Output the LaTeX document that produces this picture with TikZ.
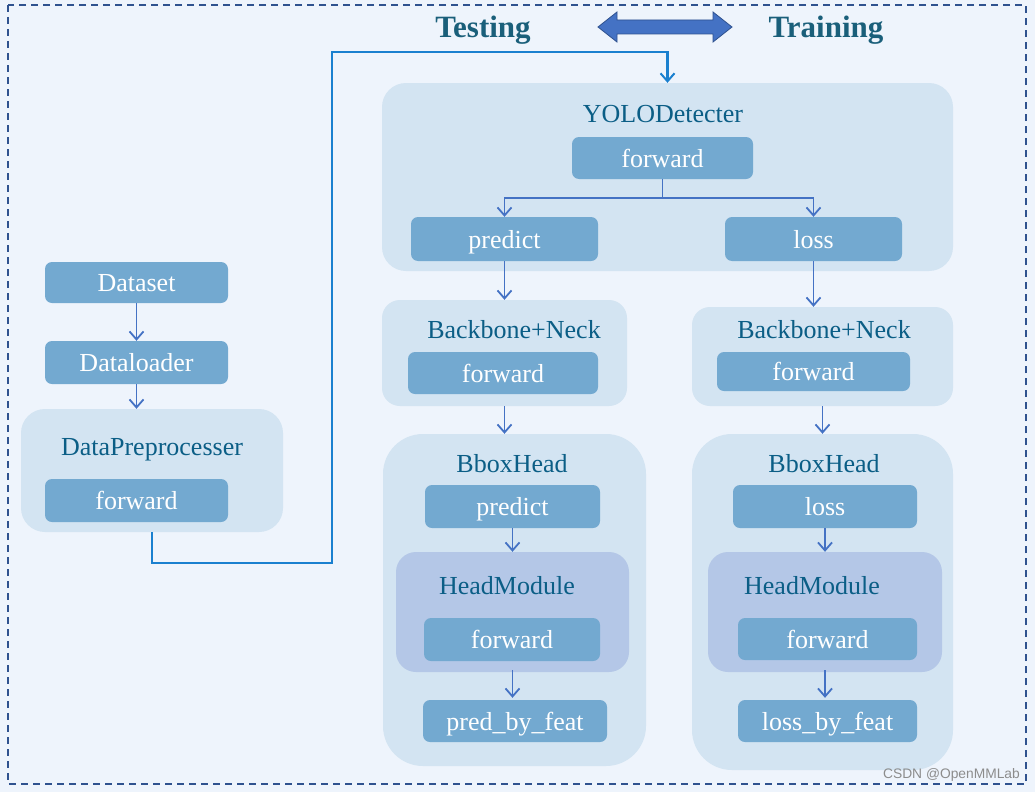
\documentclass[tikz,border=0pt]{standalone}
\usepackage{fontspec}
\setmainfont{Liberation Serif}
\newfontfamily\wmfont{Liberation Sans}
\usetikzlibrary{arrows.meta}
\definecolor{bgc}{HTML}{EEF4FC}
\definecolor{framec}{HTML}{2F528F}
\definecolor{outerc}{HTML}{D3E4F2}
\definecolor{innerc}{HTML}{73A9D0}
\definecolor{hmc}{HTML}{B4C7E7}
\definecolor{titlec}{HTML}{0B5E86}
\definecolor{headc}{HTML}{1A5F7A}
\definecolor{feedc}{HTML}{1A80CF}
\definecolor{arrc}{HTML}{4472C4}
\definecolor{wmc}{HTML}{8C8C8C}
\tikzset{
  outerbox/.style={fill=outerc, draw=none, rounded corners=24pt, inner sep=0pt},
  hmbox/.style={fill=hmc, draw=none, rounded corners=20pt, inner sep=0pt},
  innerbox/.style={fill=innerc, draw=none, rounded corners=7pt, inner sep=0pt, text=white,
    font=\fontsize{26}{30}\selectfont, text height=18pt, text depth=0pt},
  titletext/.style={text=titlec, inner sep=0pt, font=\fontsize{26}{30}\selectfont,
    text height=18pt, text depth=0pt},
  headtext/.style={text=headc, inner sep=0pt, font=\fontsize{31}{36}\selectfont\bfseries,
    text height=21pt, text depth=0pt},
  arr/.style={draw=arrc, line width=1.9pt, -{Straight Barb[length=8pt,width=14pt,line width=1.8pt]}},
  feed/.style={draw=feedc, line width=2.2pt, -{Straight Barb[length=8pt,width=14pt,line width=2pt]}},
}
\begin{document}
\begin{tikzpicture}[x=1pt,y=-1pt]
\useasboundingbox (0,0) rectangle (1035,792);
\fill[bgc] (0,0) rectangle (1035,792);
\draw[framec, line width=1.3pt, dash pattern=on 7pt off 5pt] (8,5) rectangle (1026,784);

% header
\node[headtext] (testing) at (483,27) {Testing};
\node[headtext] (training) at (826,27) {Training};
\fill[arrc, draw=framec, line width=0.8pt] (598,27) -- (617,12) -- (617,20) -- (713,20) -- (713,12) -- (732,27) -- (713,42) -- (713,34) -- (617,34) -- (617,42) -- cycle;

% left column
\node[innerbox, minimum width=183pt, minimum height=41pt] (ds) at (136.5,282.5) {Dataset};
\node[innerbox, minimum width=183pt, minimum height=43pt] (dl) at (136.5,362.5) {Dataloader};
\node[outerbox, minimum width=262pt, minimum height=123pt] (dpp) at (152,470.5) {};
\node[titletext] (dppt) at (152,446) {DataPreprocesser};
\node[innerbox, minimum width=183pt, minimum height=43pt] (dppf) at (136.5,500.5) {forward};
\draw[arr] (ds.south) -- (dl.north);
\draw[arr] (dl.south) -- (dl.south |- dpp.north);

% YOLODetecter
\node[outerbox, minimum width=571pt, minimum height=188pt] (yolo) at (667.5,177) {};
\node[titletext] (yolot) at (663,113) {YOLODetecter};
\node[innerbox, minimum width=181pt, minimum height=42pt] (yf) at (662.5,158) {forward};
\node[innerbox, minimum width=187pt, minimum height=44pt] (yp) at (504.5,239) {predict};
\node[innerbox, minimum width=177pt, minimum height=44pt] (yl) at (813.5,239) {loss};
\draw[arr] (yf.south) -- ++(0,19) -| (yp.north);
\draw[arr] (yf.south) -- ++(0,19) -| (yl.north);

% feed connector
\coordinate (t1) at (332,563);
\coordinate (t2) at (332,52);
\draw[feed] (dpp.south) |- (t1) -- (t2) -| (yolo.north);

% Backbone+Neck
\node[outerbox, minimum width=245pt, minimum height=106pt, rounded corners=18pt] (bbl) at (504.5,353) {};
\node[titletext] (bblt) at (514,329) {Backbone+Neck};
\node[innerbox, minimum width=190pt, minimum height=42pt] (bblf) at (503,373) {forward};
\node[outerbox, minimum width=261pt, minimum height=99pt, rounded corners=18pt] (bbr) at (822.5,356.5) {};
\node[titletext] (bbrt) at (824,329) {Backbone+Neck};
\node[innerbox, minimum width=193pt, minimum height=39pt] (bbrf) at (813.5,371.5) {forward};
\draw[arr] (yp.south) -- (yp.south |- bbl.north);
\draw[arr] (yl.south) -- (yl.south |- bbr.north);

% BboxHead left
\node[outerbox, minimum width=263pt, minimum height=332pt, rounded corners=40pt] (bhl) at (514.5,600) {};
\node[titletext] (bhlt) at (512,463) {BboxHead};
\node[innerbox, minimum width=175pt, minimum height=43pt] (bhlp) at (512.5,506.5) {predict};
\node[hmbox, minimum width=233pt, minimum height=120pt] (hml) at (512.5,612) {};
\node[titletext] (hmlt) at (507,585) {HeadModule};
\node[innerbox, minimum width=176pt, minimum height=43pt] (hmlf) at (512,639.5) {forward};
\node[innerbox, minimum width=184pt, minimum height=42pt] (pbf) at (515,721) {pred\_by\_feat};
\draw[arr] (bbl.south) -- (bbl.south |- bhl.north);
\draw[arr] (bhlp.south) -- (bhlp.south |- hml.north);
\draw[arr] ([yshift=2pt]hml.south) -- ([yshift=2pt]hml.south |- pbf.north);

% BboxHead right
\node[outerbox, minimum width=261pt, minimum height=336pt, rounded corners=40pt] (bhr) at (822.5,602) {};
\node[titletext] (bhrt) at (824,463) {BboxHead};
\node[innerbox, minimum width=184pt, minimum height=43pt] (bhrl) at (825,506.5) {loss};
\node[hmbox, minimum width=234pt, minimum height=120pt] (hmr) at (825,612) {};
\node[titletext] (hmrt) at (812,585) {HeadModule};
\node[innerbox, minimum width=179pt, minimum height=42pt] (hmrf) at (827.5,639) {forward};
\node[innerbox, minimum width=179pt, minimum height=42pt] (lbf) at (827.5,721) {loss\_by\_feat};
\draw[arr] (bbr.south) -- (bbr.south |- bhr.north);
\draw[arr] (bhrl.south) -- (bhrl.south |- hmr.north);
\draw[arr] ([yshift=2pt]hmr.south) -- ([yshift=2pt]hmr.south |- lbf.north);

% watermark
\node[text=wmc, inner sep=0pt, anchor=east, font=\wmfont\fontsize{13.8}{16}\selectfont] (wm) at (1020,775) {CSDN @OpenMMLab};
\end{tikzpicture}
\end{document}
